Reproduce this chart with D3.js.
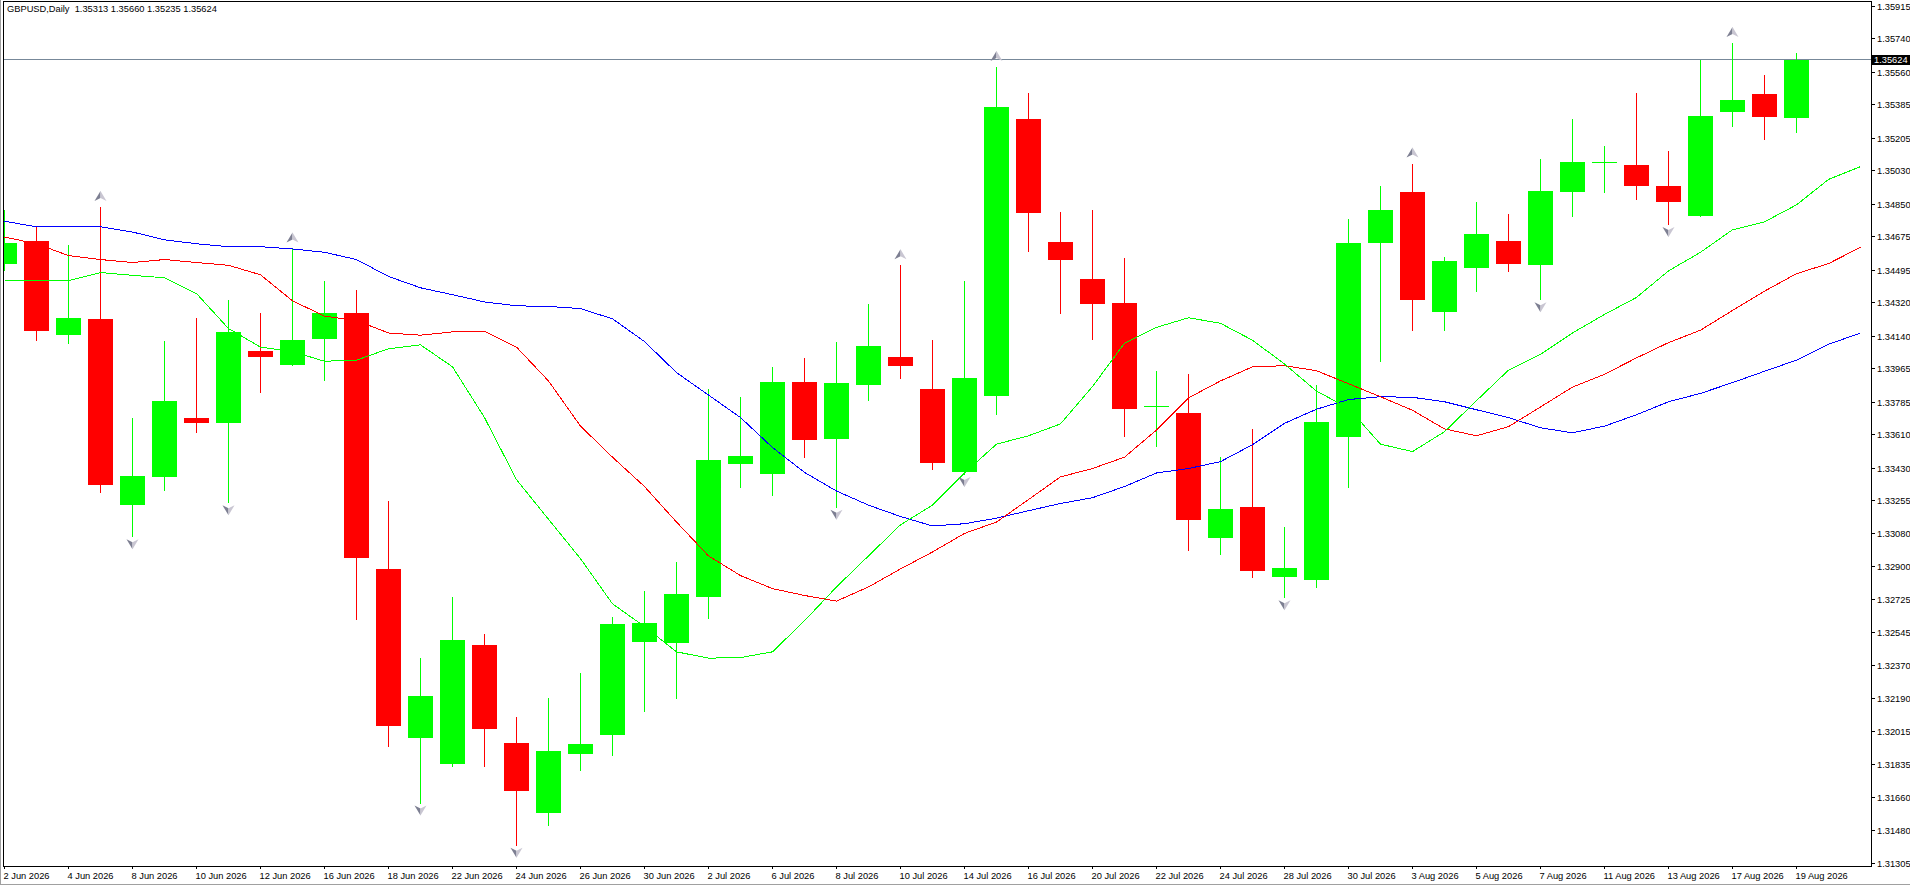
<!DOCTYPE html>
<html>
<head>
<meta charset="utf-8">
<script src="https://cdn.jsdelivr.net/npm/d3@7"></script>
<style>
  html, body { margin: 0; padding: 0; background: #fff; overflow: hidden; }
  svg { display: block; }
  text { font-family: "Liberation Sans", Arial, sans-serif; font-size: 9.3px; fill: #000; }
</style>
</head>
<body>
<svg id="chart"></svg>
<script>
// GBPUSD daily bars, 2 Jun 2026 - 19 Aug 2026
const symbol = 'GBPUSD,Daily';
const dates = [
  '2026-06-02','2026-06-03','2026-06-04','2026-06-05','2026-06-08','2026-06-09','2026-06-10','2026-06-11','2026-06-12',
  '2026-06-15','2026-06-16','2026-06-17','2026-06-18','2026-06-19','2026-06-22','2026-06-23','2026-06-24','2026-06-25',
  '2026-06-26','2026-06-29','2026-06-30','2026-07-01','2026-07-02','2026-07-03','2026-07-06','2026-07-07','2026-07-08',
  '2026-07-09','2026-07-10','2026-07-13','2026-07-14','2026-07-15','2026-07-16','2026-07-17','2026-07-20','2026-07-21',
  '2026-07-22','2026-07-23','2026-07-24','2026-07-27','2026-07-28','2026-07-29','2026-07-30','2026-07-31','2026-08-03',
  '2026-08-04','2026-08-05','2026-08-06','2026-08-07','2026-08-10','2026-08-11','2026-08-12','2026-08-13','2026-08-14',
  '2026-08-17','2026-08-18','2026-08-19'
];
const open = [
  1.34525,1.34650,1.34143,1.34231,1.33232,1.33381,1.33697,1.33669,1.34058,1.33982,1.34122,1.34261,1.32886,1.31978,1.31839,
  1.32476,1.31951,1.31571,1.31893,1.31990,1.32491,1.32485,1.32737,1.33448,1.33399,1.33891,1.33587,1.33873,1.34024,1.33854,
  1.33405,1.33815,1.35305,1.34644,1.34446,1.34316,1.33757,1.33724,1.33050,1.33220,1.32840,1.32825,1.33593,1.34638,1.34914,
  1.34270,1.34507,1.34650,1.34522,1.34911,1.35071,1.35060,1.34944,1.34786,1.35342,1.35439,1.35313
];
const high = [
  1.34817,1.34723,1.34629,1.34832,1.33697,1.34112,1.34237,1.34331,1.34261,1.34610,1.34434,1.34386,1.33250,1.32406,1.32734,
  1.32537,1.32091,1.32191,1.32324,1.32628,1.32768,1.32922,1.33851,1.33812,1.33973,1.34021,1.34106,1.34310,1.34519,1.34118,
  1.34434,1.35585,1.35445,1.34805,1.34817,1.34559,1.33952,1.33933,1.33487,1.33639,1.33111,1.33876,1.34768,1.34944,1.35066,
  1.34562,1.34859,1.34795,1.35090,1.35305,1.35160,1.35448,1.35132,1.35621,1.35715,1.35542,1.35660
];
const low = [
  1.34495,1.34116,1.34103,1.33302,1.33062,1.33308,1.33624,1.33244,1.33836,1.33982,1.33903,1.32619,1.31933,1.31629,1.31827,
  1.31824,1.31402,1.31508,1.31802,1.31887,1.32124,1.32191,1.32622,1.33329,1.33284,1.33487,1.33220,1.33797,1.33912,1.33426,
  1.33396,1.33721,1.34595,1.34261,1.34122,1.33599,1.33545,1.32986,1.32965,1.32843,1.32734,1.32786,1.33329,1.34003,1.34173,
  1.34173,1.34380,1.34486,1.34337,1.34783,1.34914,1.34877,1.34741,1.34786,1.35269,1.35196,1.35235
];
const close = [
  1.34641,1.34164,1.34237,1.33335,1.33387,1.33791,1.33669,1.34161,1.34027,1.34119,1.34261,1.32944,1.32039,1.32203,1.32503,
  1.32027,1.31690,1.31905,1.31945,1.32589,1.32595,1.32752,1.33472,1.33493,1.33891,1.33578,1.33885,1.34085,1.33976,1.33454,
  1.33912,1.35369,1.34799,1.34547,1.34310,1.33745,1.33760,1.33147,1.33208,1.32874,1.32892,1.33675,1.34638,1.34817,1.34331,
  1.34544,1.34686,1.34528,1.34920,1.35075,1.35073,1.34947,1.34862,1.35321,1.35409,1.35315,1.35624
];

// Alligator lines, one value per bar slot (the last two slots lie in the shifted future area)
const jaw = [
  1.34756,1.34726,1.34726,1.34726,1.34698,1.34656,1.34635,1.34619,1.34619,1.34607,1.34589,1.34550,1.34459,1.34398,1.34361,
  1.34322,1.34301,1.34298,1.34286,1.34231,1.34109,1.33942,1.33821,1.33700,1.33539,1.33405,1.33305,1.33229,1.33168,1.33117,
  1.33129,1.33159,1.33199,1.33238,1.33269,1.33329,1.33402,1.33426,1.33463,1.33554,1.33669,1.33745,1.33797,1.33812,1.33809,
  1.33785,1.33742,1.33700,1.33645,1.33618,1.33654,1.33715,1.33785,1.33830,1.33888,1.33949,1.34009,1.34094,1.34155
];
const teeth = [
  1.34671,1.34635,1.34571,1.34550,1.34534,1.34550,1.34534,1.34519,1.34468,1.34328,1.34246,1.34222,1.34155,1.34143,1.34161,
  1.34164,1.34079,1.33897,1.33654,1.33487,1.33329,1.33138,1.32956,1.32850,1.32780,1.32743,1.32713,1.32789,1.32886,1.32977,
  1.33077,1.33138,1.33259,1.33381,1.33426,1.33487,1.33633,1.33806,1.33897,1.33973,1.33979,1.33952,1.33882,1.33812,1.33739,
  1.33639,1.33602,1.33651,1.33757,1.33864,1.33933,1.34021,1.34103,1.34170,1.34276,1.34380,1.34474,1.34528,1.34616
];
const lips = [
  1.34437,1.34437,1.34437,1.34480,1.34465,1.34452,1.34367,1.34179,1.34079,1.34055,1.34003,1.34009,1.34070,1.34091,1.33973,
  1.33700,1.33366,1.33153,1.32941,1.32698,1.32576,1.32440,1.32406,1.32409,1.32440,1.32607,1.32789,1.32956,1.33123,1.33229,
  1.33402,1.33557,1.33602,1.33666,1.33867,1.34100,1.34185,1.34237,1.34207,1.34116,1.33988,1.33842,1.33751,1.33557,1.33517,
  1.33624,1.33791,1.33955,1.34040,1.34155,1.34255,1.34346,1.34489,1.34589,1.34710,1.34753,1.34844,1.34981,1.35050
];

const fractalUp = [3, 9, 28, 31, 44, 54];
const fractalDown = [4, 7, 13, 16, 26, 30, 40, 48, 52];

const priceTicks = [
  1.35915,1.35740,1.35560,1.35385,1.35205,1.35030,1.34850,1.34675,1.34495,1.34320,1.34140,1.33965,1.33785,1.33610,
  1.33430,1.33255,1.33080,1.32900,1.32725,1.32545,1.32370,1.32190,1.32015,1.31835,1.31660,1.31480,1.31305
];


const width = 1910, height = 885;
const plot = { left: 3, right: 1871, top: 1, bottom: 866 };
const bullColor = '#00ff00', bearColor = '#ff0000';

const bars = dates.map((d, i) => ({
  i, date: d3.timeParse('%Y-%m-%d')(d), o: open[i], h: high[i], l: low[i], c: close[i]
}));
const last = bars[bars.length - 1];

const x = d3.scaleLinear().domain([0, bars.length - 1]).range([4.5, 4.5 + 32 * (bars.length - 1)]);
const y = d3.scaleLinear().domain([1.31288, 1.35946]).range([plot.bottom, 0]);
const fmt = d3.timeFormat('%-d %b %Y');

const svg = d3.select('#chart')
  .attr('width', width)
  .attr('height', height);

svg.append('rect').attr('width', width).attr('height', height).attr('fill', '#fff');

svg.append('clipPath').attr('id', 'plotclip')
  .append('rect')
  .attr('x', plot.left + 1).attr('y', plot.top + 1)
  .attr('width', plot.right - plot.left - 1).attr('height', plot.bottom - plot.top - 1);

const g = svg.append('g').attr('clip-path', 'url(#plotclip)');

// bid line
const bidY = Math.floor(y(last.c)) + 0.5;
g.append('line')
  .attr('x1', plot.left).attr('x2', plot.right)
  .attr('y1', bidY).attr('y2', bidY)
  .attr('stroke', '#778899').attr('stroke-width', 1)
  .attr('shape-rendering', 'crispEdges');

// CANDLES
const candle = g.selectAll('.candle')
  .data(bars)
  .enter().append('g')
  .attr('class', 'candle')
  .attr('shape-rendering', 'crispEdges');

candle.append('line')
  .attr('x1', d => x(d.i)).attr('x2', d => x(d.i))
  .attr('y1', d => Math.round(y(d.h))).attr('y2', d => Math.round(y(d.l)) + 1)
  .attr('stroke', d => d.c >= d.o ? bullColor : bearColor);

candle.append('rect')
  .attr('x', d => x(d.i) - 12.5)
  .attr('width', 25)
  .attr('y', d => Math.round(y(Math.max(d.o, d.c))))
  .attr('height', d => Math.max(1, Math.round(y(Math.min(d.o, d.c))) - Math.round(y(Math.max(d.o, d.c)))))
  .attr('fill', d => d.c >= d.o ? bullColor : bearColor);

// ALLIGATOR LINES
const line = d3.line().x((d, i) => x(i)).y(d => y(d));
[[jaw, '#0000ff'], [teeth, '#ff0000'], [lips, '#00ff00']].forEach(([vals, col]) => {
  g.append('path')
    .datum(vals)
    .attr('d', line)
    .attr('fill', 'none')
    .attr('stroke', col)
    .attr('stroke-width', 1)
    .attr('shape-rendering', 'crispEdges');
});

// FRACTAL ARROWS
const arrowLeft = 'M0,-5 L0,2 L-6,5 Z';
const arrowRight = 'M0,-5 L6,5 L0,2 Z';
function drawArrow(cx, cy, flip) {
  const a = g.append('g').attr('transform', `translate(${cx},${cy}) scale(1,${flip ? -1 : 1})`);
  a.append('path').attr('d', arrowLeft).attr('fill', '#7d7f92');
  a.append('path').attr('d', arrowRight).attr('fill', '#c9c6d2');
}
fractalUp.forEach(i => drawArrow(x(i), y(high[i]) - 11, false));
fractalDown.forEach(i => drawArrow(x(i), y(low[i]) + 8, true));

// FRAME
svg.append('rect')
  .attr('x', plot.left + 0.5).attr('y', plot.top + 0.5)
  .attr('width', plot.right - plot.left).attr('height', plot.bottom - plot.top)
  .attr('fill', 'none').attr('stroke', '#000').attr('stroke-width', 1)
  .attr('shape-rendering', 'crispEdges');

// PRICE AXIS
const yAxis = svg.append('g').attr('shape-rendering', 'crispEdges');
priceTicks.forEach(v => {
  const ty = Math.round(y(v)) + 0.5;
  yAxis.append('line')
    .attr('x1', plot.right).attr('x2', plot.right + 4)
    .attr('y1', ty).attr('y2', ty)
    .attr('stroke', '#000');
  yAxis.append('text')
    .attr('x', plot.right + 6).attr('y', ty)
    .attr('dy', '0.36em')
    .text(v.toFixed(5));
});

// current price tag
yAxis.append('rect')
  .attr('x', plot.right + 1).attr('y', bidY - 4.5)
  .attr('width', width - plot.right - 1).attr('height', 10)
  .attr('fill', '#000');
yAxis.append('text')
  .attr('x', plot.right + 3).attr('y', bidY)
  .attr('dy', '0.36em')
  .style('fill', '#fff')
  .text(last.c.toFixed(5));

// TIME AXIS
const xAxis = svg.append('g').attr('shape-rendering', 'crispEdges');
bars.filter(d => d.i % 2 === 0).forEach(d => {
  xAxis.append('line')
    .attr('x1', x(d.i)).attr('x2', x(d.i))
    .attr('y1', plot.bottom).attr('y2', plot.bottom + 3)
    .attr('stroke', '#000');
  xAxis.append('text')
    .attr('x', x(d.i) - 1).attr('y', 878.5)
    .text(fmt(d.date));
});

// TITLE
svg.append('text')
  .attr('x', 7).attr('y', 12)
  .attr('xml:space', 'preserve')
  .text(`${symbol}  ${last.o.toFixed(5)} ${last.h.toFixed(5)} ${last.l.toFixed(5)} ${last.c.toFixed(5)}`);

// window edge
svg.append('path')
  .attr('d', `M0.5,0 V${height - 0.5} H${width}`)
  .attr('fill', 'none').attr('stroke', '#a0a0a0')
  .attr('shape-rendering', 'crispEdges');
</script>
</body>
</html>
